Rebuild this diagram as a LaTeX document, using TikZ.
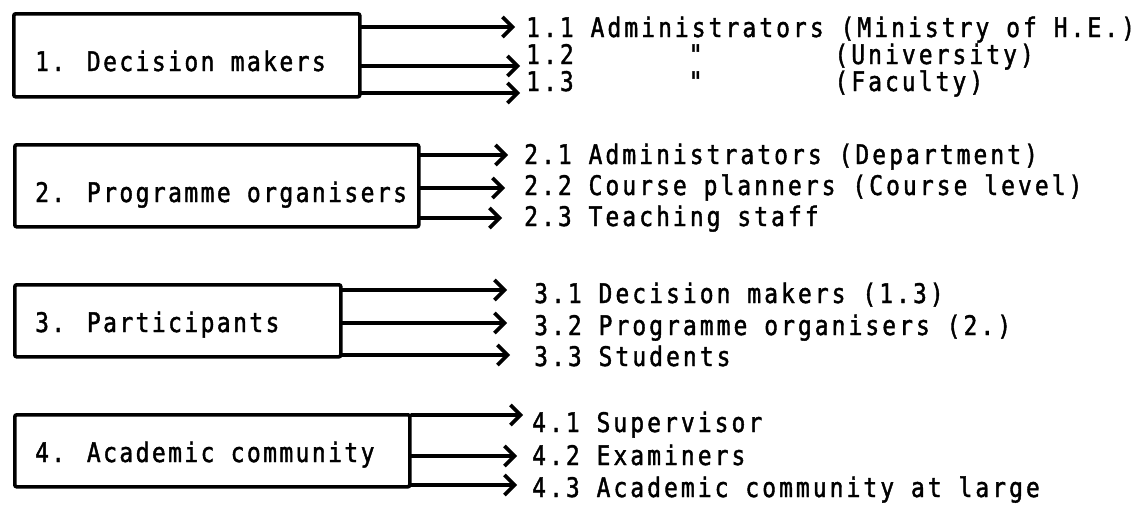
\documentclass[tikz,border=0pt]{standalone}
\usepackage{fontspec}
\newfontfamily\typer[FakeStretch=0.85, FakeBold=1.5, LetterSpace=11.3]{DejaVu Sans Mono}
\newfontfamily\boxtyper[FakeStretch=0.85, FakeBold=1.5, LetterSpace=9]{DejaVu Sans Mono}
\usetikzlibrary{arrows.meta}
\begin{document}
\begin{tikzpicture}[x=1pt,y=-1pt,
  box/.style={draw, line width=3.6pt, rounded corners=2pt, inner sep=0pt, anchor=north west},
  lbl/.style={font=\typer\fontsize{27}{30}\selectfont, anchor=base west, inner sep=0pt},
  boxlbl/.style={font=\boxtyper\fontsize{27}{30}\selectfont, anchor=base west, inner sep=0pt},
  arr/.style={line width=3.6pt, line cap=round,
    -{Straight Barb[length=10pt,width=20pt,line width=3.6pt]}},
]
\useasboundingbox (0,0) rectangle (1142,506);

% ---- boxes ----
\node[box, minimum width=346pt, minimum height=83pt] (b1) at (12,12) {};
\node[box, minimum width=404pt, minimum height=82pt] (b2) at (13,143) {};
\node[box, minimum width=326pt, minimum height=72pt] (b3) at (13,283) {};
\node[box, minimum width=395pt, minimum height=72pt] (b4) at (13,413) {};

\node[boxlbl] (b1t) at (35,71) {1. Decision makers};
\node[boxlbl] (b2t) at (35,202) {2. Programme organisers};
\node[boxlbl] (b3t) at (35,332) {3. Participants};
\node[boxlbl] (b4t) at (35,462) {4. Academic community};

% ---- right-hand lists (ditto marks kept on the monospace grid) ----
\node[lbl] (t11) at (526,37) {1.1 Administrators (Ministry of H.E.)};
\node[lbl] (t12) at (526,64) {1.2\hphantom{ Admini}"\hphantom{trators }(University)};
\node[lbl] (t13) at (526,91) {1.3\hphantom{ Admini}"\hphantom{trators }(Faculty)};

\node[lbl] (t21) at (524,164) {2.1 Administrators (Department)};
\node[lbl] (t22) at (524,195) {2.2 Course planners (Course level)};
\node[lbl] (t23) at (524,226) {2.3 Teaching staff};

\node[lbl] (t31) at (534,303) {3.1 Decision makers (1.3)};
\node[lbl] (t32) at (534,335) {3.2 Programme organisers (2.)};
\node[lbl] (t33) at (534,366) {3.3 Students};

\node[lbl] (t41) at (532,432) {4.1 Supervisor};
\node[lbl] (t42) at (532,465) {4.2 Examiners};
\node[lbl] (t43) at (532,497) {4.3 Academic community at large};

% ---- arrow ends ----
\coordinate (e11) at (515,27);
\coordinate (e12) at (520,66);
\coordinate (e13) at (520,93);
\coordinate (e21) at (508,155);
\coordinate (e22) at (505,188);
\coordinate (e23) at (502,218);
\coordinate (e31) at (507,290);
\coordinate (e32) at (507,323);
\coordinate (e33) at (510,355);
\coordinate (e41) at (523,415);
\coordinate (e42) at (517,456);
\coordinate (e43) at (517,485);

% ---- connectors ----
\foreach \g in {1,2,3,4}{
  \foreach \k in {1,2,3}{
    \draw[arr] (b\g.east |- e\g\k) -- (e\g\k);
  }
}
\end{tikzpicture}
\end{document}
